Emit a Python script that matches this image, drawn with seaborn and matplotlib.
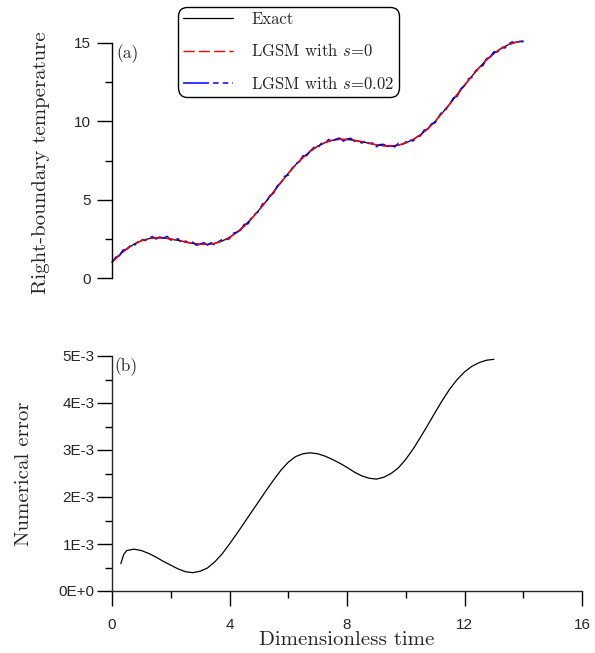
import numpy as np
import pandas as pd
import matplotlib
matplotlib.use("Agg")
import matplotlib.pyplot as plt
import seaborn as sns
from matplotlib.ticker import FixedLocator, FixedFormatter

# ---------------- data ----------------
time_exact = np.linspace(0, 14, 57)
exact_temp = [1.00, 1.47, 1.86, 2.16, 2.38, 2.51, 2.57, 2.56, 2.49, 2.40,
              2.30, 2.21, 2.15, 2.15, 2.21, 2.36, 2.59, 2.91, 3.31, 3.79,
              4.33, 4.90, 5.50, 6.10, 6.68, 7.22, 7.69, 8.09, 8.41, 8.64,
              8.79, 8.85, 8.84, 8.79, 8.70, 8.60, 8.50, 8.44, 8.43, 8.48,
              8.62, 8.84, 9.14, 9.53, 10.00, 10.55, 11.11, 11.71, 12.31, 12.88,
              13.43, 13.92, 14.33, 14.66, 14.90, 15.05, 15.13]
lgsm_s0_temp = [1.00, 1.47, 1.86, 2.16, 2.38, 2.51, 2.57, 2.56, 2.49, 2.40,
                2.30, 2.21, 2.15, 2.15, 2.21, 2.36, 2.59, 2.91, 3.31, 3.79,
                4.33, 4.90, 5.50, 6.10, 6.68, 7.22, 7.69, 8.09, 8.41, 8.64,
                8.79, 8.85, 8.84, 8.79, 8.70, 8.60, 8.50, 8.44, 8.43, 8.48,
                8.62, 8.84, 9.14, 9.53, 10.00, 10.55, 11.11, 11.71, 12.31, 12.88,
                13.43, 13.92, 14.33, 14.66, 14.90, 15.05, 15.13]

time_noisy = np.linspace(0, 14, 113)
lgsm_s002_temp = [1.00, 1.32, 1.42, 1.79, 1.83, 2.07, 2.06, 2.31, 2.47, 2.39,
                  2.53, 2.65, 2.49, 2.62, 2.54, 2.66, 2.42, 2.48, 2.50, 2.23,
                  2.36, 2.21, 2.29, 2.09, 2.16, 2.26, 2.10, 2.25, 2.10, 2.32,
                  2.45, 2.44, 2.51, 2.85, 2.93, 3.05, 3.42, 3.45, 3.84, 4.09,
                  4.26, 4.73, 4.86, 5.26, 5.41, 5.88, 6.08, 6.49, 6.56, 6.99,
                  7.29, 7.41, 7.80, 7.81, 8.11, 8.34, 8.31, 8.59, 8.61, 8.84,
                  8.72, 8.87, 8.93, 8.74, 8.87, 8.92, 8.73, 8.79, 8.61, 8.76,
                  8.58, 8.62, 8.38, 8.52, 8.53, 8.39, 8.45, 8.37, 8.60, 8.50,
                  8.68, 8.83, 8.74, 9.02, 9.07, 9.44, 9.50, 9.84, 9.91, 10.31,
                  10.67, 10.77, 11.12, 11.50, 11.60, 12.08, 12.27, 12.70, 12.80, 13.21,
                  13.46, 13.56, 14.00, 14.11, 14.44, 14.43, 14.72, 14.68, 14.94, 15.07,
                  15.00, 15.11, 15.07]

time_error = [0.30, 0.40, 0.50, 0.75, 1.00, 1.25, 1.50, 1.75, 2.00, 2.25,
              2.50, 2.75, 3.00, 3.25, 3.50, 3.75, 4.00, 4.25, 4.50, 4.75,
              5.00, 5.25, 5.50, 5.75, 6.00, 6.25, 6.50, 6.75, 7.00, 7.25,
              7.50, 7.75, 8.00, 8.25, 8.50, 8.75, 9.00, 9.25, 9.50, 9.75,
              10.00, 10.25, 10.50, 10.75, 11.00, 11.25, 11.50, 11.75, 12.00, 12.25,
              12.50, 12.75, 13.00]
numerical_error = [0.58e-3, 0.78e-3, 0.86e-3, 0.89e-3, 0.86e-3, 0.80e-3, 0.72e-3, 0.63e-3, 0.55e-3, 0.47e-3,
                   0.41e-3, 0.39e-3, 0.42e-3, 0.49e-3, 0.62e-3, 0.79e-3, 1.00e-3, 1.22e-3, 1.45e-3, 1.68e-3,
                   1.91e-3, 2.14e-3, 2.36e-3, 2.57e-3, 2.74e-3, 2.86e-3, 2.92e-3, 2.94e-3, 2.92e-3, 2.87e-3,
                   2.80e-3, 2.72e-3, 2.63e-3, 2.53e-3, 2.45e-3, 2.40e-3, 2.38e-3, 2.42e-3, 2.50e-3, 2.62e-3,
                   2.80e-3, 3.02e-3, 3.27e-3, 3.53e-3, 3.80e-3, 4.06e-3, 4.30e-3, 4.50e-3, 4.66e-3, 4.78e-3,
                   4.86e-3, 4.91e-3, 4.93e-3]

x_major_ticks = [0, 4, 8, 12, 16]
x_minor_ticks = [2, 6, 10, 14]
top_y_major = [0, 5, 10, 15]
top_y_minor = [2.5, 7.5, 12.5]
bot_y_major = [0.0, 1e-3, 2e-3, 3e-3, 4e-3, 5e-3]
bot_y_labels = ["0E+0", "1E-3", "2E-3", "3E-3", "4E-3", "5E-3"]
bot_y_minor = [0.5e-3, 1.5e-3, 2.5e-3, 3.5e-3, 4.5e-3]
series_labels = ["Exact", "LGSM with $s$=0", "LGSM with $s$=0.02"]

# ---------------- style ----------------
sns.set_style("white")
plt.rcParams["font.family"] = ["cmr10", "DejaVu Serif"]
plt.rcParams["mathtext.fontset"] = "cm"
plt.rcParams["axes.formatter.use_mathtext"] = True
plt.rcParams["axes.linewidth"] = 1.0

TICK_FS = 11
tick_font = {"family": "Liberation Sans", "size": TICK_FS}

fig = plt.figure(figsize=(5.95, 6.53), dpi=100)
W, H = 595.0, 653.0
ax_top = fig.add_axes([112 / W, 1 - 278 / H, 470 / W, 235 / H])
ax_bot = fig.add_axes([112 / W, 1 - 591 / H, 470 / W, 235 / H])

# ---------------- top panel ----------------
df_exact = pd.DataFrame({"t": time_exact, "T": exact_temp})
df_s0 = pd.DataFrame({"t": time_exact, "T": lgsm_s0_temp})
df_s002 = pd.DataFrame({"t": time_noisy, "T": lgsm_s002_temp})

sns.lineplot(data=df_exact, x="t", y="T", ax=ax_top, color="black", lw=0.9,
             estimator=None, sort=False, label=series_labels[0], clip_on=False)
sns.lineplot(data=df_s002, x="t", y="T", ax=ax_top, color="blue", lw=1.1,
             estimator=None, sort=False, label=series_labels[2], clip_on=False)
ax_top.lines[-1].set_dashes([17, 2.7, 3.6, 2.7, 3.6, 2.7])
sns.lineplot(data=df_s0, x="t", y="T", ax=ax_top, color="red", lw=1.0,
             estimator=None, sort=False, label=series_labels[1], clip_on=False)
ax_top.lines[-1].set_dashes([8, 3])

ax_top.set_xlim(0, 16)
ax_top.set_ylim(0, 15)
for s in ["top", "right", "bottom"]:
    ax_top.spines[s].set_visible(False)
ax_top.spines["left"].set_color("black")
ax_top.set_xticks([])
ax_top.yaxis.set_major_locator(FixedLocator(top_y_major))
ax_top.yaxis.set_minor_locator(FixedLocator(top_y_minor))
ax_top.set_yticklabels([str(v) for v in top_y_major], fontdict=tick_font)
ax_top.tick_params(axis="y", which="major", length=11, width=1.0, direction="out",
                   pad=4, color="black", left=True)
ax_top.tick_params(axis="y", which="minor", length=5, width=1.0, direction="out",
                   color="black", left=True)
ax_top.set_xlabel("")
ax_top.set_ylabel("Right-boundary temperature", fontsize=15, va="center")
ax_top.yaxis.set_label_coords(-0.152, 0.49)
ax_top.text(0.009, 0.995, "(a)", transform=ax_top.transAxes, ha="left", va="top",
            fontsize=12.5)

# legend
h, l = ax_top.get_legend_handles_labels()
hd = {lab: hh for hh, lab in zip(h, l)}
leg = ax_top.legend([hd[x] for x in series_labels], series_labels,
                    loc="upper left", bbox_to_anchor=(178 / W, 1 - 7 / H),
                    bbox_transform=fig.transFigure, fontsize=12, frameon=True,
                    fancybox=True, edgecolor="black", framealpha=1,
                    handlelength=3.05, handletextpad=1.08, labelspacing=0.93,
                    borderpad=0.28, borderaxespad=0)
leg.get_frame().set_linewidth(1.0)
leg.get_frame().set_boxstyle("round", pad=0, rounding_size=0.55)

# ---------------- bottom panel ----------------
df_err = pd.DataFrame({"t": time_error, "err": numerical_error})
sns.lineplot(data=df_err, x="t", y="err", ax=ax_bot, color="black", lw=0.9,
             estimator=None, sort=False)
ax_bot.set_xlim(0, 16)
ax_bot.set_ylim(0, 5e-3)
for s in ["top", "right"]:
    ax_bot.spines[s].set_visible(False)
ax_bot.xaxis.set_major_locator(FixedLocator(x_major_ticks))
ax_bot.xaxis.set_minor_locator(FixedLocator(x_minor_ticks))
ax_bot.set_xticklabels([str(v) for v in x_major_ticks], fontdict=tick_font)
ax_bot.yaxis.set_major_locator(FixedLocator(bot_y_major))
ax_bot.yaxis.set_major_formatter(FixedFormatter(bot_y_labels))
ax_bot.yaxis.set_minor_locator(FixedLocator(bot_y_minor))
for lab in ax_bot.get_yticklabels():
    lab.set_fontfamily("Liberation Sans")
    lab.set_fontsize(TICK_FS)
ax_bot.tick_params(axis="both", which="major", length=11, width=1.0, direction="out",
                   color="black", left=True, bottom=True)
ax_bot.tick_params(axis="y", which="major", pad=1.5)
ax_bot.tick_params(axis="x", which="major", pad=8.5)
ax_bot.tick_params(axis="both", which="minor", length=5, width=1.0, direction="out",
                   color="black", left=True, bottom=True)
ax_bot.set_xlabel("Dimensionless time", fontsize=15, va="top")
ax_bot.xaxis.set_label_coords(0.5, -0.172)
ax_bot.set_ylabel("Numerical error", fontsize=15, va="center")
ax_bot.yaxis.set_label_coords(-0.188, 0.5)
ax_bot.text(0.006, 0.995, "(b)", transform=ax_bot.transAxes, ha="left", va="top",
            fontsize=12.5)

fig.savefig("out.png", dpi=100)
